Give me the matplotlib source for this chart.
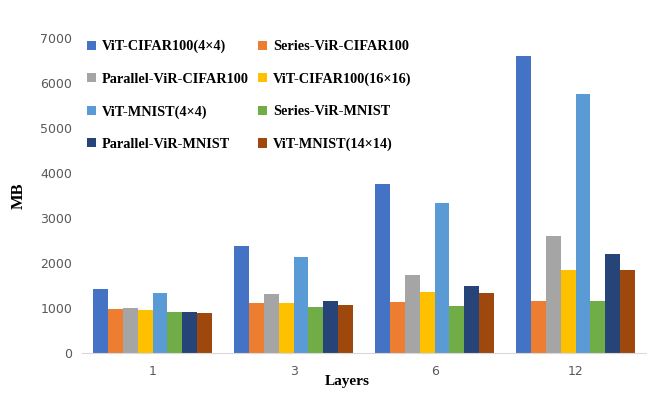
import matplotlib.pyplot as plt
import numpy as np

layers = ['1', '3', '6', '12']
series = ['ViT-CIFAR100(4×4)', 'Series-ViR-CIFAR100', 'Parallel-ViR-CIFAR100', 'ViT-CIFAR100(16×16)',
          'ViT-MNIST(4×4)', 'Series-ViR-MNIST', 'Parallel-ViR-MNIST', 'ViT-MNIST(14×14)']
vit_cifar_4 = [1420, 2380, 3760, 6610]
series_cifar = [980, 1120, 1140, 1160]
parallel_cifar = [995, 1300, 1730, 2610]
vit_cifar_16 = [950, 1100, 1350, 1845]
vit_mnist_4 = [1330, 2135, 3340, 5760]
series_mnist = [910, 1015, 1045, 1160]
parallel_mnist = [910, 1150, 1495, 2195]
vit_mnist_14 = [880, 1065, 1325, 1850]
values = [vit_cifar_4, series_cifar, parallel_cifar, vit_cifar_16,
          vit_mnist_4, series_mnist, parallel_mnist, vit_mnist_14]
colors = ['#4472C4', '#ED7D31', '#A5A5A5', '#FFC000', '#5B9BD5', '#70AD47', '#264478', '#9E480E']

fig = plt.figure(figsize=(6.62, 3.97), dpi=100)
ax = fig.add_axes([0.124, 0.111, 0.852, 0.793])

x = np.arange(len(layers))
w = 0.105
bars = []
for i in range(len(series)):
    b = ax.bar(x + (i - 3.5) * w, values[i], w, color=colors[i], label=series[i])
    bars.append(b)

ax.set_xlim(-0.5, 3.5)
ax.set_ylim(0, 7000)
ax.set_yticks(range(0, 7001, 1000))
ax.set_xticks(x)
ax.set_xticklabels(layers)
ax.tick_params(length=0, labelsize=9, labelcolor='#595959')
ax.tick_params(axis='y', pad=7)
ax.tick_params(axis='x', pad=9)
for s in ['top', 'right', 'left']:
    ax.spines[s].set_visible(False)
ax.spines['bottom'].set_color('#D9D9D9')

ax.set_ylabel('MB', family='Liberation Serif', fontweight='bold', fontsize=12)
ax.yaxis.set_label_coords(-0.098, 0.5)
ax.set_xlabel('Layers', family='Liberation Serif', fontweight='bold', fontsize=11, labelpad=0)
ax.xaxis.set_label_coords(0.47, -0.07)

# legend is row-major in the picture, matplotlib fills columns first
order = [0, 2, 4, 6, 1, 3, 5, 7]
ax.legend([bars[i] for i in order], [series[i] for i in order], ncol=2,
          loc='upper left', bbox_to_anchor=(-0.014, 1.035), frameon=False,
          prop={'family': 'Liberation Serif', 'weight': 'bold', 'size': 10.3},
          handlelength=0.6, handleheight=0.6, handletextpad=0.4,
          labelspacing=1.35, columnspacing=0.7)

fig.savefig('out.png')
